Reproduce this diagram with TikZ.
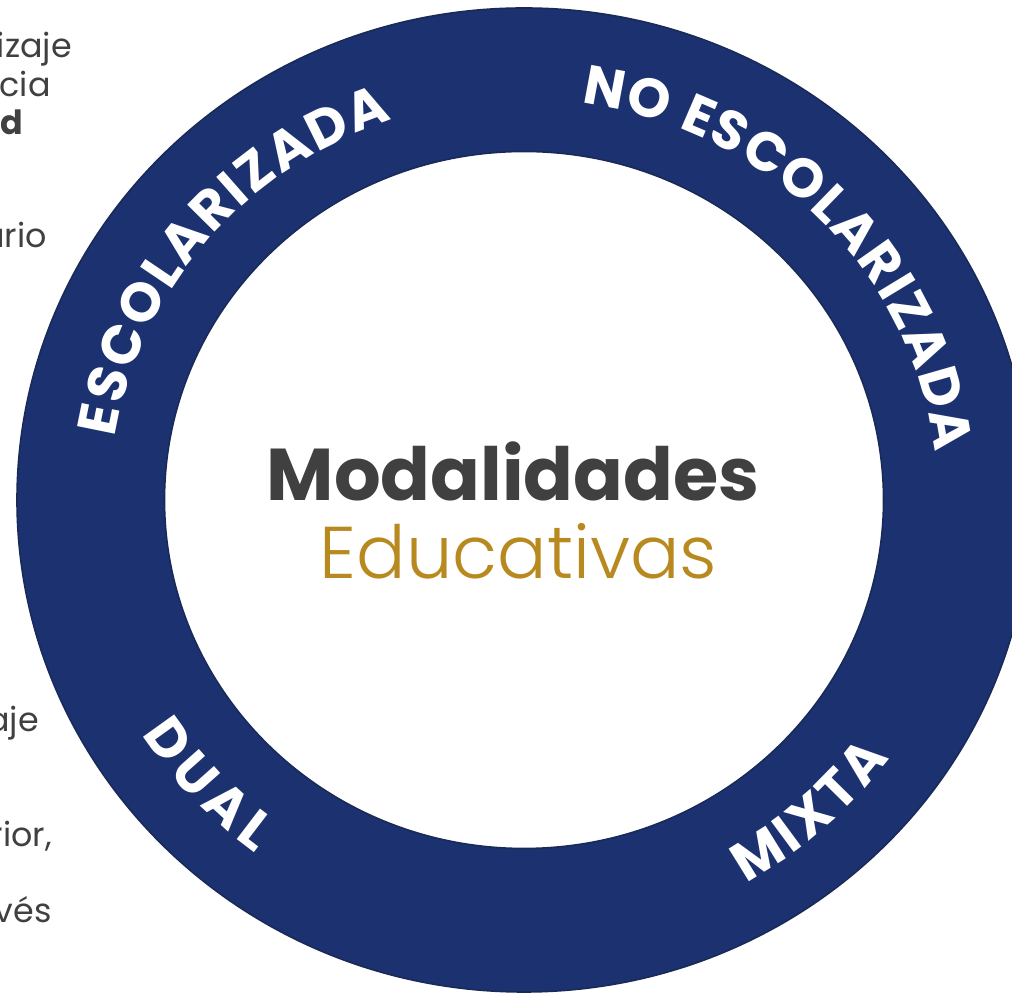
\documentclass[tikz,border=0pt]{standalone}
\usepackage{fontspec}
\setmainfont{Poppins}
\newfontfamily\poplight{Poppins Light}
\usetikzlibrary{decorations.text}
\definecolor{ringblue}{HTML}{1B3170}
\definecolor{ringedge}{HTML}{1A2A58}
\definecolor{txtgray}{HTML}{404040}
\definecolor{gold}{HTML}{B8891F}
\tikzset{
  side/.style={text=txtgray, font=\fontsize{25}{25}\selectfont, inner sep=0pt, anchor=base east},
  bandtext/.style={decorate, decoration={text along path, text color=white,
      text align={fit to path}, text={|\bfseries\fontsize{41}{41}\selectfont|#1}}},
}
\begin{document}
\begin{tikzpicture}[x=0.75pt,y=0.75pt]
\useasboundingbox (0,0) rectangle (1012,994);
\coordinate (c) at (524,494);
% side text fragments (clipped by page edge)
\node[side] (s1) at (72,936) {izaje};
\node[side] (s2) at (51,897) {ncia};
\node[side, font=\fontsize{25}{25}\selectfont\bfseries] (s3) at (23,859) {d};
\node[side] (s4) at (47,746) {ario};
\node[side] (s5) at (39,262) {aje};
\node[side] (s6) at (52,147) {rior,};
\node[side] (s7) at (52,71) {vés};
% ring
\path[fill=ringblue, draw=ringedge, line width=1.2pt, even odd rule]
  (c) ellipse[x radius=507, y radius=492]
  (c) ellipse[x radius=359.5, y radius=348.5];
% band labels
\path[bandtext=ESCOLARIZADA] (c) ++(171:414 and 401)
  arc[start angle=171, end angle=108.5, x radius=414, y radius=401];
\path[bandtext={NO ESCOLARIZADA}] (c) ++(82:414 and 401)
  arc[start angle=82, end angle=6.8, x radius=414, y radius=401];
\path[bandtext=DUAL] (c) ++(212.3:452 and 439)
  arc[start angle=212.3, end angle=233.5, x radius=452, y radius=439];
\path[bandtext=MIXTA] (c) ++(299.4:452 and 439)
  arc[start angle=299.4, end angle=324, x radius=452, y radius=439];
% centre title
\node[anchor=base, inner sep=0pt, text=txtgray, font=\fontsize{55}{55}\selectfont\bfseries] (t1) at (513,493) {Modalidades};
\node[anchor=base, inner sep=0pt, text=gold, font=\poplight\fontsize{55}{55}\selectfont] (t2) at (518.5,415) {Educativas};
\end{tikzpicture}
\end{document}
